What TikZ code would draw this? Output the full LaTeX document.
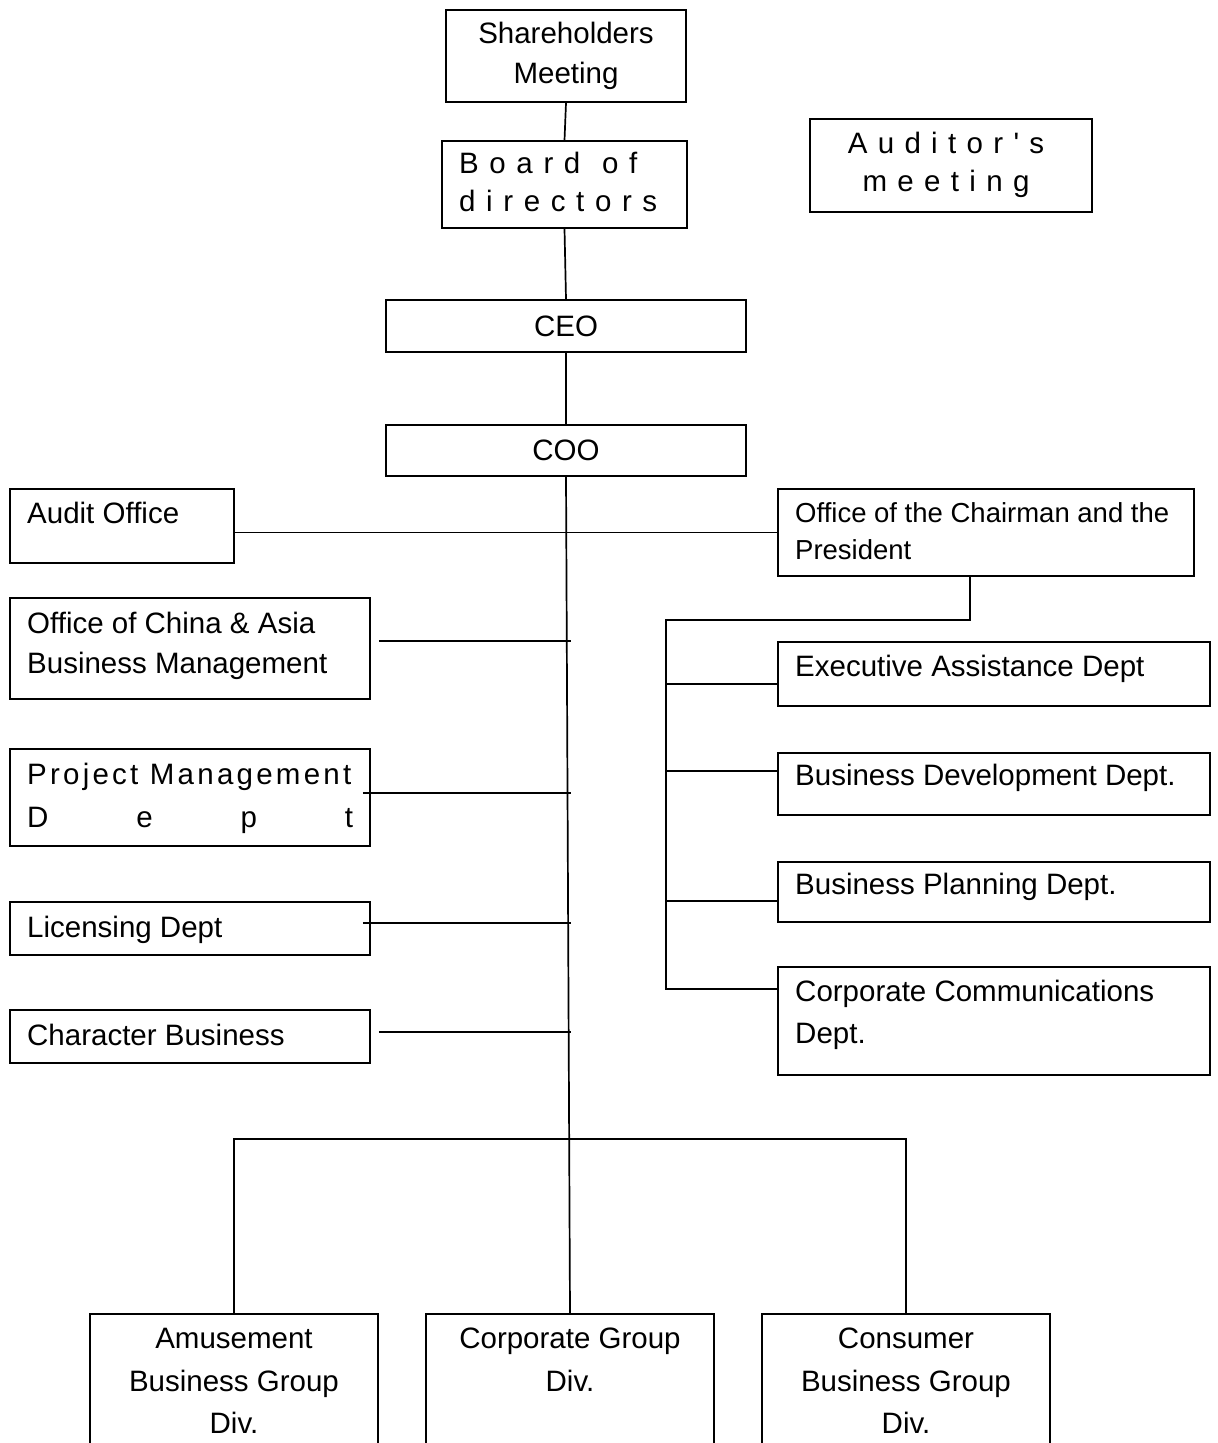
\documentclass[tikz,border=0pt]{standalone}
\usepackage{fontspec}
\setmainfont{Liberation Sans}

\tikzset{
  box/.style={draw, line width=1.8pt, inner sep=0pt, align=center},
  link/.style={line width=1.7pt},
  lbl/.style={inner sep=0pt, align=left, anchor=north west},
  spaced/.style={font=\fontsize{29.5}{38}\selectfont\addfontfeature{LetterSpace=#1}},
}

\begin{document}
\begin{tikzpicture}[x=1pt, y=-1pt, font=\fontsize{29.5}{40}\selectfont]
		%%%%% FRAME %%%%%
		\useasboundingbox (0,0) rectangle (1218,1443);
		\clip (0,0) rectangle (1218,1443);
		
		%%%%% TOP %%%%%
		\node[box, minimum width=240, minimum height=92] (share) at (566,56) {Shareholders\\Meeting};
		\node[box, minimum width=245, minimum height=87] (board) at (564.5,184.5) {};
		\node[lbl, spaced=36] (boardtxt) at (459,152) {Board\hspace{0.1em} of\\directors};
		\node[box, minimum width=282, minimum height=93] (auditm) at (951,165.5) {};
		\node[spaced=35, inner sep=0pt, align=center] (auditmtxt) at (946,165)
			{Auditor\hspace{0.35em}\textquotesingle\hspace{0.35em}s\\meeting};
		
		\node[box, minimum width=360, minimum height=52] (ceo) at (566,326) {CEO};
		\node[box, minimum width=360, minimum height=51] (coo) at (566,450.5) {COO};
		
		%%%%% LEFT %%%%%
		\node[box, minimum width=224, minimum height=74] (audit) at (122,526) {};
		\node[lbl] (audittxt) at (27,502) {Audit Office};
		
		\node[box, minimum width=360, minimum height=101] (china) at (190,648.5) {};
		\node[lbl] (chinatxt) at (27,612) {Office of China \& Asia\\Business Management};
		
		\node[box, minimum width=360, minimum height=97] (proj) at (190,797.5) {};
		\node[lbl, font=\fontsize{29.5}{43}\selectfont\addfontfeature{LetterSpace=11}] (projtxt) at (27,763)
			{Project Management\\\hbox to 326pt{D\hfill e\hfill p\hfill t}};
		
		\node[box, minimum width=360, minimum height=53] (lic) at (190,928.5) {};
		\node[lbl] (lictxt) at (27,916) {Licensing Dept};
		
		\node[box, minimum width=360, minimum height=53] (chara) at (190,1036.5) {};
		\node[lbl] (charatxt) at (27,1024) {Character Business};
		
		%%%%% RIGHT %%%%%
		\node[box, minimum width=416, minimum height=87] (chair) at (986,532.5) {};
		\node[lbl, font=\fontsize{27.5}{37}\selectfont] (chairtxt) at (795,502) {Office of the Chairman and the\\President};
		
		\node[box, minimum width=432, minimum height=64] (exec) at (994,674) {};
		\node[lbl] (exectxt) at (795,655) {Executive Assistance Dept};
		
		\node[box, minimum width=432, minimum height=62] (bdev) at (994,784) {};
		\node[lbl] (bdevtxt) at (795,764) {Business Development Dept.};
		
		\node[box, minimum width=432, minimum height=60] (bplan) at (994,892) {};
		\node[lbl] (bplantxt) at (795,873) {Business Planning Dept.};
		
		\node[box, minimum width=432, minimum height=108] (ccom) at (994,1021) {};
		\node[lbl, font=\fontsize{29.5}{42}\selectfont] (ccomtxt) at (795,980) {Corporate Communications\\Dept.};
		
		%%%%% BOTTOM %%%%%
		\node[box, minimum width=288, minimum height=170] (amuse) at (234,1399) {};
		\node[inner sep=0pt, align=center, anchor=north, font=\fontsize{29.5}{42.5}\selectfont] (amusetxt) at (234,1328) {Amusement\\Business Group\\Div.};
		
		\node[box, minimum width=288, minimum height=170] (corp) at (570,1399) {};
		\node[inner sep=0pt, align=center, anchor=north, font=\fontsize{29.5}{42.5}\selectfont] (corptxt) at (570,1328) {Corporate Group\\Div.};
		
		\node[box, minimum width=288, minimum height=170] (cons) at (906,1399) {};
		\node[inner sep=0pt, align=center, anchor=north, font=\fontsize{29.5}{42.5}\selectfont] (constxt) at (906,1328) {Consumer\\Business Group\\Div.};
		
		%%%%% LINES %%%%%
		\draw[link] (share.south) -- (board.north);
		\draw[link] (board.south) -- (ceo.north);
		\draw[link] (ceo.south) -- (coo.north);
		\draw[link] (coo.south) -- (corp.north);
		
		\draw[link] (audit.east |- chair.west) -- (chair.west);
		\foreach \bx/\dx/\dy in {china/8/-7.5, proj/-8/-4.5, lic/-8/-5.5, chara/8/-4.5}
			\draw[link] ([shift={(\dx,\dy)}]\bx.east) -- ++({200-\dx},0);
		
		\draw[link] ([xshift=-16pt]chair.south) -- ++(0,43) -| (666,989) -- (ccom.west |- 0,989);
		\foreach \bx/\by in {exec/684, bdev/771, bplan/901}
			\draw[link] (666,\by) -- (\bx.west |- 0,\by);
		
		\draw[link] (amuse.north) -- ++(0,-174) -| (cons.north);
		
		%%%%% END %%%%%
	\end{tikzpicture}
\end{document}
